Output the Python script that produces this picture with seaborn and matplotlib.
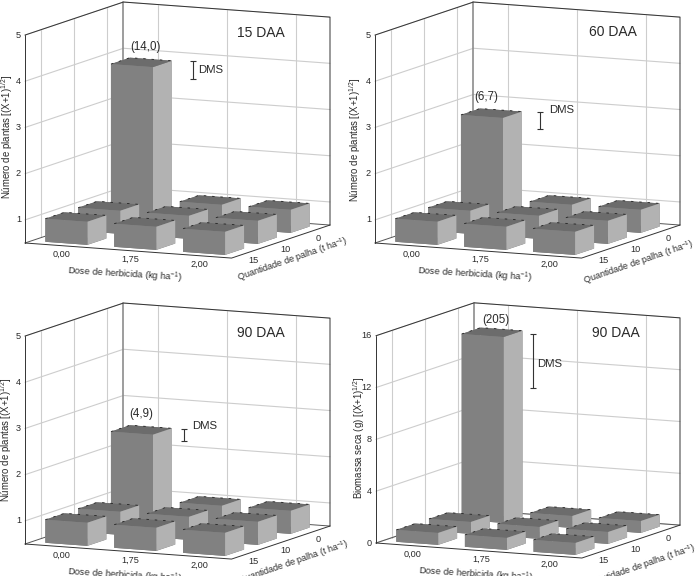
import matplotlib
matplotlib.use('Agg')
import matplotlib.pyplot as plt
import seaborn as sns
from mpl_toolkits.mplot3d import proj3d

sns.set_theme(style='white', font='Liberation Sans')
plt.rcParams['mathtext.default'] = 'regular'

# doses no eixo x, palha no eixo y (da frente para o fundo)
dose_labels = ['0,00', '1,75', '2,00']
palha_labels = ['15', '10', '0']

# alturas: linhas = palha 15, 10, 0 / colunas = dose
valores_15 = [[1.0, 1.0, 1.0], [1.0, 1.0, 1.0], [3.87, 1.0, 1.0]]
valores_60 = [[1.0, 1.0, 1.0], [1.0, 1.0, 1.0], [2.77, 1.0, 1.0]]
valores_90 = [[1.0, 1.0, 1.0], [1.0, 1.0, 1.0], [2.43, 1.0, 1.0]]
biomassa_90 = [[0.92, 0.92, 0.92], [0.92, 0.92, 0.92], [14.35, 0.92, 0.92]]

ticks_plantas = [1, 2, 3, 4, 5]
ticks_biomassa = [0, 4, 8, 12, 16]

# (x, inicio, fim) da barra DMS, no plano do fundo
dms_15 = (1.01, 3.44, 3.83)
dms_60 = (0.97, 2.36, 2.73)
dms_90 = (0.88, 2.10, 2.36)
dms_bio = (0.855, 9.77, 13.92)

ylabel_plantas = 'Número de plantas [(X+1)$^{1/2}$]'
ylabel_bio = 'Biomassa seca (g) [(X+1)$^{1/2}$]'
xlabel = 'Dose de herbicida (kg ha$^{-1}$)'
plabel = 'Quantidade de palha (t ha$^{-1}$)'

cor_topo = '#6c6c6c'
cor_frente = '#818181'
cor_lado = '#b2b2b2'
cor_grade = '#cdcdcd'
cor_texto = '#2a2a2a'

W, H = 696, 576
fig = plt.figure(figsize=(W / 100, H / 100), dpi=100)


def proj2d(ax, x, y, z):
    X, Y, _ = proj3d.proj_transform(x, y, z, ax.get_proj())
    return (X, Y)


def posiciona(ax, z0, left, floor, right):
    # ajusta a posicao do eixo para a caixa cair nos pixels desejados
    p0 = ax.transData.transform(proj2d(ax, 0, 0, z0))
    p1 = ax.transData.transform(proj2d(ax, 3, 3, z0))
    esc = (right - left) / (p1[0] - p0[0])
    l, b, w, h = ax.get_position().bounds
    lp, bp = l * W, b * H
    novo_l = left - (p0[0] - lp) * esc
    novo_b = (H - floor) - (p0[1] - bp) * esc
    ax.set_position([novo_l / W, novo_b / H, w * esc, h * esc])


def texto(ax, ponto, s, dx, dy, **kw):
    ax.annotate(s, xy=ponto, xycoords='data', xytext=(dx, dy), textcoords='offset pixels',
                annotation_clip=False, color=cor_texto, **kw)


def painel(valores, zlim, zticks, dms, titulo, rotulo, ylabel, left, floor, right, tit_xy, rot_off, dms_off, plabel_off, ylabel_off):
    z0, z1 = zlim
    ax = fig.add_axes([0.3, 0.3, 0.4, 0.4 * W / H], projection='3d')
    ax.set_proj_type('ortho')
    ax.view_init(elev=9, azim=-65)
    ax.set_box_aspect((228, 233, 210.6), zoom=1)
    ax.set_xlim(0, 3, view_margin=0)
    ax.set_ylim(0, 3, view_margin=0)
    ax.set_zlim(z0, z1, view_margin=0)
    ax.set_axis_off()
    ax.patch.set_visible(False)
    ax.computed_zorder = False
    posiciona(ax, z0, left, floor, right)

    # grade nas paredes do fundo e da esquerda
    for z in zticks:
        ax.plot([0, 0, 3], [0, 3, 3], [z, z, z], color=cor_grade, lw=0.8, zorder=1)
    for t in [0.5, 1.5, 2.5]:
        ax.plot([t, t], [3, 3], [z0, z1], color=cor_grade, lw=0.8, zorder=1)
        ax.plot([0, 0], [t, t], [z0, z1], color=cor_grade, lw=0.8, zorder=1)

    # contorno da caixa
    ax.plot([0, 3, 3], [0, 0, 3], [z0, z0, z0], color='#333333', lw=0.7, zorder=2)
    ax.plot([0, 0, 3], [0, 3, 3], [z0, z0, z0], color='#555555', lw=0.7, zorder=1.5)
    ax.plot([0, 0, 3, 3], [0, 3, 3, 3], [z1, z1, z1, z0], color='#333333', lw=0.7, zorder=2)
    ax.plot([0, 0], [0, 0], [z0, z1], color='#333333', lw=0.7, zorder=2)
    ax.plot([0, 0], [3, 3], [z0, z1], color='#8c8c8c', lw=1.2, zorder=1.5)

    # barras de tras para frente
    ordem = 3
    largura = 0.61
    for j in [2, 1, 0]:
        for i in range(3):
            x = i + 0.2
            y = j + 0.2
            faces = [cor_topo, cor_topo, cor_frente, cor_frente, cor_frente, cor_lado]
            ax.bar3d(x, y, z0, largura, 0.58, valores[j][i] - z0, color=faces, shade=False,
                     edgecolor='none', zorder=ordem)
            ax.plot([x, x, x + largura], [y, y + 0.58, y + 0.58], [valores[j][i]] * 3, color='#222222',
                    lw=0.6, ls=(0, (3, 7)), zorder=ordem + 0.5)
            ordem += 1

    # rotulos dos eixos
    for z in zticks:
        texto(ax, proj2d(ax, 0, 0, z), str(z), -4, 0, ha='right', va='center', fontsize=6.6)
    for i, s in enumerate(dose_labels):
        texto(ax, proj2d(ax, i + 0.5, 0, z0), s, 2, -9, ha='center', va='center', fontsize=6.6)
    for j, s in enumerate(palha_labels):
        texto(ax, proj2d(ax, 3, j + 0.5, z0), s, 5, -8, ha='center', va='center', fontsize=6.6)

    fig.text((left + 100) / W, 1 - (floor + 32) / H, xlabel, ha='center', va='center', rotation=-3.5,
             rotation_mode='anchor', fontsize=6.7, color=cor_texto)
    fig.text((left + ylabel_off[0]) / W, 1 - (floor - ylabel_off[1]) / H, ylabel, ha='center', va='center',
             rotation=90, fontsize=6.9, color=cor_texto)
    fig.text((left + plabel_off[0]) / W, 1 - (floor + plabel_off[1]) / H, plabel, ha='center', va='center',
             rotation=19, rotation_mode='anchor', fontsize=6.5, color=cor_texto)

    # valor da barra alta, DMS e titulo
    alto = valores[2][0]
    texto(ax, proj2d(ax, 0.5, 2.5, alto), rotulo, rot_off[0], rot_off[1], ha='center', va='center', fontsize=8.3)
    dx, d0, d1 = dms
    ax.plot([dx, dx], [3, 3], [d0, d1], color='#333333', lw=0.8, marker='_', ms=5, mew=0.8, zorder=30)
    texto(ax, proj2d(ax, dx, 3, (d0 + d1) / 2), 'DMS', dms_off[0], dms_off[1], ha='left', va='center', fontsize=8.2)
    fig.text(tit_xy[0] / W, 1 - tit_xy[1] / H, titulo, ha='center', va='center', fontsize=10, color=cor_texto)
    return ax


painel(valores_15, (0.5, 5), ticks_plantas, dms_15, '15 DAA', '(14,0)', ylabel_plantas, 25, 243, 330, (261, 33), (4, 15), (5, 0), (268, 17), (-18, 106))
painel(valores_60, (0.5, 5), ticks_plantas, dms_60, '60 DAA', '(6,7)', ylabel_plantas, 375, 243, 680, (613, 32), (-5, 16), (9, 10), (264, 20), (-20, 103))
painel(valores_90, (0.5, 5), ticks_plantas, dms_90, '90 DAA', '(4,9)', ylabel_plantas, 25, 544, 330, (261, 333), (0, 16), (8, 9), (269, 19), (-19, 104))
painel(biomassa_90, (0, 16), ticks_biomassa, dms_bio, '90 DAA', '(205)', ylabel_bio, 376, 543, 680, (616, 333), (4, 12), (4, -3), (265, 24), (-17, 105))

fig.savefig('out.png', dpi=100)
